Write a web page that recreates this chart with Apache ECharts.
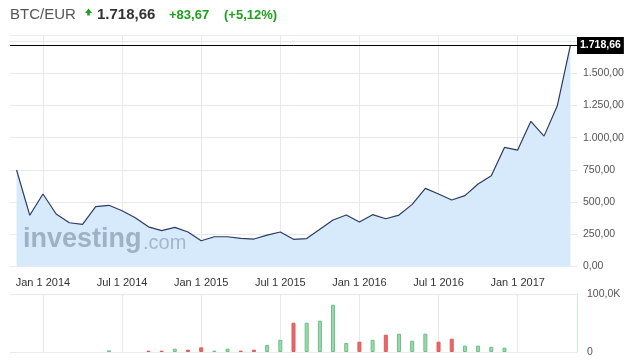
<!DOCTYPE html>
<html><head><meta charset="utf-8">
<script src="https://cdn.jsdelivr.net/npm/echarts@6/dist/echarts.min.js"></script>
<style>html,body{margin:0;padding:0;background:#fff}#c{width:632px;height:362px}</style>
</head><body><div id="c"></div>
<script>
const months = ['Nov 2013','Dec 2013','Jan 2014','Feb 2014','Mar 2014','Apr 2014','May 2014','Jun 2014','Jul 2014','Aug 2014','Sep 2014','Oct 2014','Nov 2014','Dec 2014',
  'Jan 2015','Feb 2015','Mar 2015','Apr 2015','May 2015','Jun 2015','Jul 2015','Aug 2015','Sep 2015','Oct 2015','Nov 2015','Dec 2015',
  'Jan 2016','Feb 2016','Mar 2016','Apr 2016','May 2016','Jun 2016','Jul 2016','Aug 2016','Sep 2016','Oct 2016','Nov 2016','Dec 2016',
  'Jan 2017','Feb 2017','Mar 2017','Apr 2017','May 2017'];
const price = [748,395,561,405,337,325,462,473,431,376,305,276,301,265,197,228,228,215,210,241,265,208,214,286,358,397,343,400,368,397,480,605,561,514,548,639,703,924,903,1127,1012,1246,1718.66];
const volumeK = [null,null,null,null,null,null,null,2.8,null,null,2.3,2.3,5.7,4,8,2.3,5.7,2.3,4,12,21,50.5,50.5,54,81.5,15.5,17.8,21,29.8,31.6,19.5,31.6,17.8,23,11,11,9,7.4,null,null,null,null,null];
const priceTicks = [0,250,500,750,1000,1250,1500];
const lastPrice = 1718.66;
const header = {symbol:'BTC/EUR', last:'1.718,66', change:'+83,67', pct:'(+5,12%)'};

function fmtEU(v){
  const s = v.toFixed(2).split('.');
  return s[0].replace(/\B(?=(\d{3})+(?!\d))/g,'.') + ',' + s[1];
}
const isTickMonth = (i, v) => /^(Jan|Jul)/.test(v);
const gridColor = '#e7e9ef';
const FONT = 'Liberation Sans, Arial, sans-serif';

const volData = volumeK.map((v, i) => {
  if (v == null) return null;
  const up = i === 0 || price[i] >= price[i-1];
  return {value: v, itemStyle: up ? {color:'#9fd6b0', borderColor:'#6cbf86', borderWidth:1} : {color:'#e46a6a', borderColor:'#e05a5a', borderWidth:1}};
});

const chart = echarts.init(document.getElementById('c'), null, {renderer:'canvas'});
chart.setOption({
  animation:false,
  textStyle:{fontFamily:FONT},
  grid:[
    {left:10, right:55, top:35, bottom:96},
    {left:10, right:55, top:294, height:58}
  ],
  xAxis:[
    {type:'category', gridIndex:0, data:months, boundaryGap:true,
     axisLine:{show:false}, axisTick:{show:false},
     axisLabel:{interval:isTickMonth, formatter:v=>v.replace(' ',' 1 '), color:'#333', fontSize:11, margin:11, fontFamily:FONT},
     splitLine:{show:true, interval:isTickMonth, alignWithLabel:true, lineStyle:{color:gridColor, width:1}}},
    {type:'category', gridIndex:1, data:months, boundaryGap:true,
     axisLine:{show:false}, axisTick:{show:false}, axisLabel:{show:false},
     splitLine:{show:true, interval:isTickMonth, alignWithLabel:true, lineStyle:{color:gridColor, width:1}}}
  ],
  yAxis:[
    {type:'value', gridIndex:0, position:'right', min:0, max:1800, interval:250,
     axisLine:{show:false}, axisTick:{show:false},
     axisLabel:{formatter:v=> priceTicks.includes(v) ? fmtEU(v) : '', color:'#555', fontSize:10.5, margin:6, fontFamily:FONT},
     splitLine:{lineStyle:{color:gridColor, width:1}}},
    {type:'value', gridIndex:1, position:'right', min:0, max:100, interval:100,
     axisLine:{show:true, lineStyle:{color:'#cfe9d8'}}, axisTick:{show:false},
     axisLabel:{formatter:v=> v===100 ? '100,0K' : '0', color:'#555', fontSize:10.5, margin:10, fontFamily:FONT},
     splitLine:{lineStyle:{color:gridColor, width:1}}}
  ],
  series:[
    {type:'line', xAxisIndex:0, yAxisIndex:0, data:price, symbol:'none',
     lineStyle:{color:'#2d3b66', width:1.2}, areaStyle:{color:'#d6eafb', opacity:1},
     markLine:{silent:true, symbol:'none', animation:false,
       lineStyle:{color:'#000', width:1, type:'solid'},
       label:{show:true, position:'end', distance:0, formatter:()=>fmtEU(lastPrice), color:'#fff', fontWeight:'bold', fontSize:10.5,
         backgroundColor:'#000', padding:[3,3,3,3], fontFamily:FONT},
       data:[{yAxis:lastPrice}]}},
    {type:'bar', xAxisIndex:1, yAxisIndex:1, data:volData, barWidth:4}
  ],
  graphic:[
    {type:'text', left:10, top:7, style:{text:header.symbol, font:'15px '+FONT, fill:'#555'}},
    {type:'polygon', shape:{points:[[85,13],[88.5,8.5],[92,13],[89.8,13],[89.8,15.5],[87.2,15.5],[87.2,13]]}, style:{fill:'#1f9e1f'}},
    {type:'text', left:97, top:7, style:{text:header.last, font:'bold 15px '+FONT, fill:'#333'}},
    {type:'text', left:169, top:9, style:{text:header.change, font:'bold 13px '+FONT, fill:'#1f9e1f'}},
    {type:'text', left:224, top:9, style:{text:header.pct, font:'bold 13px '+FONT, fill:'#1f9e1f'}},
    {type:'text', left:23, top:226, z:10, style:{text:'investing', font:'bold 27px '+FONT, fill:'rgba(115,130,155,0.55)'}},
    {type:'text', left:143, top:233, z:10, style:{text:'.com', font:'20px '+FONT, fill:'rgba(115,130,155,0.5)'}}
  ]
});
</script></body></html>
